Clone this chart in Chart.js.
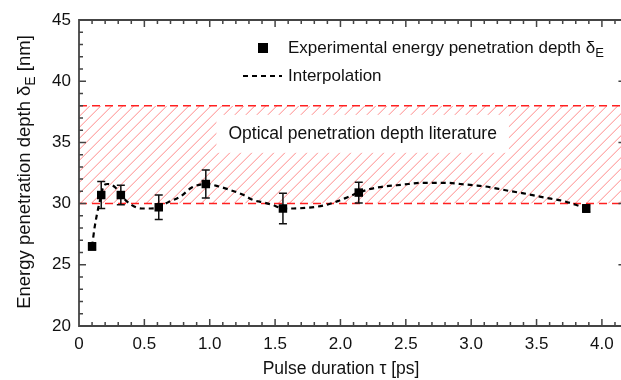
<!DOCTYPE html>
<html lang="en">
<head>
  <meta charset="UTF-8">
  <title>Energy penetration depth vs pulse duration</title>
  <script src="https://cdn.jsdelivr.net/npm/chart.js"></script>
  <style>
    html, body { margin: 0; padding: 0; background: #fff; }
    canvas { display: block; }
  </style>
</head>
<body>
  <canvas id="depthChart" width="621" height="380"></canvas>

  <script>
    // measured points (pulse duration in ps, depth in nm, +/- error)
    const pulseDuration = [0.10, 0.17, 0.32, 0.61, 0.97, 1.56, 2.14, 3.88];
    const depth = [26.5, 30.7, 30.7, 29.7, 31.6, 29.6, 30.9, 29.6];
    const depthError = [0.3, 1.1, 0.8, 1.0, 1.15, 1.25, 0.85, 0.3];

    // dashed interpolation curve
    const interpX = [0.10, 0.12, 0.17, 0.19, 0.22, 0.28, 0.32, 0.40, 0.48, 0.55, 0.61, 0.68, 0.78, 0.86, 0.97,
                     1.07, 1.16, 1.26, 1.33, 1.41, 1.48, 1.56, 1.64, 1.73, 1.82, 1.91, 1.98, 2.05, 2.14,
                     2.23, 2.33, 2.43, 2.52, 2.62, 2.71, 2.81, 2.92, 3.02, 3.11, 3.21, 3.31, 3.42, 3.51,
                     3.61, 3.71, 3.80, 3.88];
    const interpY = [26.5, 28.1, 30.7, 31.5, 31.6, 31.3, 30.7, 29.9, 29.6, 29.6, 29.7, 30.1, 30.6, 31.3, 31.6,
                     31.4, 31.1, 30.7, 30.3, 30.1, 29.9, 29.6, 29.6, 29.65, 29.75, 29.95, 30.2, 30.5, 30.9,
                     31.2, 31.4, 31.5, 31.6, 31.7, 31.7, 31.7, 31.6, 31.5, 31.4, 31.2, 31.0, 30.8, 30.6,
                     30.4, 30.2, 29.9, 29.6];

    // literature band for optical penetration depth
    const literatureRange = [30, 38];
    const bandLabel = 'Optical penetration depth literature';
    const bandLabelAt = [2.17, 35.7];

    // visible x range (the right frame of the original sits just past the crop)
    const xRange = [0, 4.146];
    const xFrameEnd = 4.18;
    const yRange = [20, 45];

    const FONT = '"Liberation Sans", Arial, sans-serif';

    // text with a subscript part, parts = [[text, isSub], ...]
    function drawParts(ctx, parts, x, y, align, size) {
      const sub = Math.round(size * 0.75);
      const widths = parts.map(p => {
        ctx.font = (p[1] ? sub : size) + 'px ' + FONT;
        return ctx.measureText(p[0]).width;
      });
      const total = widths.reduce((a, b) => a + b, 0);
      let cx = align === 'center' ? x - total / 2 : x;
      ctx.textAlign = 'left';
      ctx.textBaseline = 'middle';
      parts.forEach((p, i) => {
        ctx.font = (p[1] ? sub : size) + 'px ' + FONT;
        ctx.fillText(p[0], cx, p[1] ? y + size * 0.32 : y);
        cx += widths[i];
      });
    }

    const decorPlugin = {
      id: 'decor',
      beforeDatasetsDraw(chart) {
        const { ctx, chartArea: a, scales: { x, y } } = chart;
        const yTop = y.getPixelForValue(literatureRange[1]);
        const yBot = y.getPixelForValue(literatureRange[0]);
        const h = yBot - yTop;

        // hatching
        ctx.save();
        ctx.beginPath();
        ctx.rect(a.left, yTop, a.right - a.left, h);
        ctx.clip();
        ctx.strokeStyle = 'rgba(255, 100, 100, 0.75)';
        ctx.lineWidth = 1;
        ctx.beginPath();
        for (let x0 = a.left - h; x0 < a.right; x0 += 11) {
          ctx.moveTo(x0, yBot);
          ctx.lineTo(x0 + h, yTop);
        }
        ctx.stroke();
        ctx.restore();

        // dashed band edges
        ctx.save();
        ctx.strokeStyle = '#ff2020';
        ctx.lineWidth = 1.5;
        ctx.setLineDash([8, 5]);
        [yTop, yBot].forEach(py => {
          ctx.beginPath();
          ctx.moveTo(a.left, py);
          ctx.lineTo(a.right, py);
          ctx.stroke();
        });
        ctx.restore();

        // band label
        const cx = x.getPixelForValue(bandLabelAt[0]);
        const cy = y.getPixelForValue(bandLabelAt[1]);
        ctx.save();
        ctx.font = '17.5px ' + FONT;
        const w = ctx.measureText(bandLabel).width + 24;
        ctx.fillStyle = '#fff';
        ctx.fillRect(cx - w / 2, cy - 19, w, 38);
        ctx.fillStyle = '#111';
        ctx.textAlign = 'center';
        ctx.textBaseline = 'middle';
        ctx.fillText(bandLabel, cx, cy);
        ctx.restore();

        // error bars
        ctx.save();
        ctx.strokeStyle = '#111';
        ctx.lineWidth = 1.5;
        pulseDuration.forEach((t, i) => {
          const px = x.getPixelForValue(t);
          const top = y.getPixelForValue(depth[i] + depthError[i]);
          const bot = y.getPixelForValue(depth[i] - depthError[i]);
          ctx.beginPath();
          ctx.moveTo(px, top); ctx.lineTo(px, bot);
          ctx.moveTo(px - 4, top); ctx.lineTo(px + 4, top);
          ctx.moveTo(px - 4, bot); ctx.lineTo(px + 4, bot);
          ctx.stroke();
        });
        ctx.restore();
      },
      afterDraw(chart) {
        const { ctx, chartArea: a, scales: { x, y } } = chart;
        const frameRight = x.getPixelForValue(xFrameEnd);
        ctx.save();
        ctx.strokeStyle = '#444';
        ctx.lineWidth = 1.8;
        ctx.beginPath();
        ctx.moveTo(frameRight, a.top);
        ctx.lineTo(a.left, a.top);
        ctx.lineTo(a.left, a.bottom);
        ctx.lineTo(frameRight, a.bottom);
        ctx.stroke();

        // inward ticks, major + minor
        ctx.lineWidth = 1.5;
        ctx.beginPath();
        for (let i = 1; i / 10 < xFrameEnd; i++) {
          const px = x.getPixelForValue(i / 10);
          const len = i % 5 === 0 ? 7 : 4;
          ctx.moveTo(px, a.bottom); ctx.lineTo(px, a.bottom - len);
          ctx.moveTo(px, a.top); ctx.lineTo(px, a.top + len);
        }
        for (let v = yRange[0] + 1; v < yRange[1]; v++) {
          const py = y.getPixelForValue(v);
          const len = v % 5 === 0 ? 7 : 4;
          ctx.moveTo(a.left, py); ctx.lineTo(a.left + len, py);
          ctx.moveTo(frameRight, py); ctx.lineTo(frameRight - len, py);
        }
        ctx.stroke();

        // axis titles
        ctx.fillStyle = '#111';
        drawParts(ctx, [['Pulse duration \u03c4 [ps]', false]], 341, 369, 'center', 17.5);
        ctx.save();
        ctx.translate(25, 172);
        ctx.rotate(-Math.PI / 2);
        drawParts(ctx, [['Energy penetration depth \u03b4', false], ['E', true], [' [nm]', false]], 0, 0, 'center', 18.5);
        ctx.restore();

        // legend
        ctx.fillStyle = '#000';
        ctx.fillRect(258, 43, 10, 10);
        ctx.fillStyle = '#111';
        drawParts(ctx, [['Experimental energy penetration depth \u03b4', false], ['E', true]], 288, 48, 'left', 17);
        ctx.strokeStyle = '#000';
        ctx.lineWidth = 2;
        ctx.setLineDash([5, 4]);
        ctx.beginPath();
        ctx.moveTo(243, 76); ctx.lineTo(282, 76);
        ctx.stroke();
        ctx.setLineDash([]);
        drawParts(ctx, [['Interpolation', false]], 288, 76, 'left', 17);
        ctx.restore();
      }
    };

    const depthChart = new Chart(document.getElementById('depthChart'), {
      type: 'scatter',
      data: {
        datasets: [
          {
            label: 'Experimental energy penetration depth',
            data: pulseDuration.map((t, i) => ({ x: t, y: depth[i] })),
            pointStyle: 'rect',
            pointRadius: 6,
            backgroundColor: '#000',
            borderColor: '#000',
            borderWidth: 0,
            showLine: false,
            order: 0
          },
          {
            label: 'Interpolation',
            data: interpX.map((t, i) => ({ x: t, y: interpY[i] })),
            showLine: true,
            borderColor: '#000',
            borderWidth: 2.2,
            borderDash: [5, 4],
            pointRadius: 0,
            cubicInterpolationMode: 'monotone',
            order: 1
          }
        ]
      },
      options: {
        responsive: false,
        animation: false,
        layout: { autoPadding: false, padding: { top: 20, right: 0, left: 0, bottom: 0 } },
        plugins: { legend: { display: false }, tooltip: { enabled: false } },
        scales: {
          x: {
            type: 'linear',
            min: xRange[0],
            max: xRange[1],
            grid: { display: false, drawTicks: false },
            border: { display: false },
            ticks: {
              stepSize: 0.5,
              includeBounds: false,
              padding: 8,
              color: '#111',
              font: { size: 17, family: FONT },
              callback: v => v === 0 ? '0' : v.toFixed(1)
            },
            afterFit: s => { s.height = 54; s.paddingLeft = 0; s.paddingRight = 0; }
          },
          y: {
            min: yRange[0],
            max: yRange[1],
            grid: { display: false, drawTicks: false },
            border: { display: false },
            ticks: {
              stepSize: 5,
              padding: 8,
              color: '#111',
              font: { size: 17, family: FONT }
            },
            afterFit: s => { s.width = 79; s.paddingTop = 0; s.paddingBottom = 0; }
          }
        }
      },
      plugins: [decorPlugin]
    });
  </script>
</body>
</html>
